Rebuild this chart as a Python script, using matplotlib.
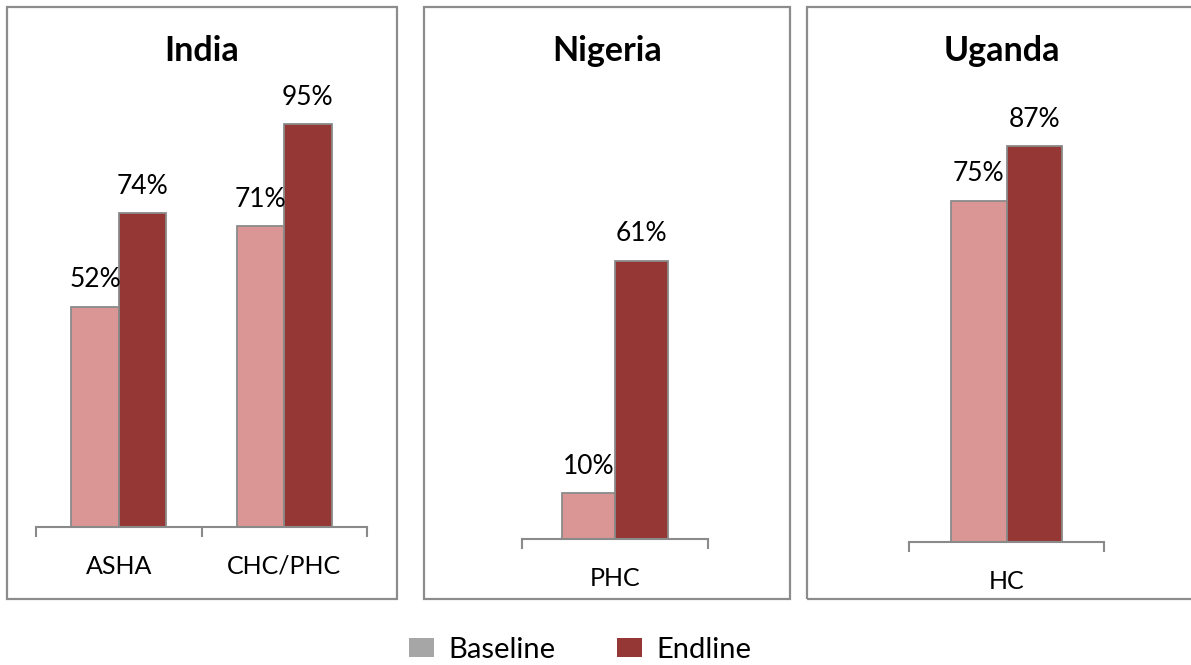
import numpy as np
import matplotlib
matplotlib.use("Agg")
import matplotlib.pyplot as plt
from matplotlib.patches import Rectangle, Patch

plt.rcParams['font.family'] = ['Lato', 'DejaVu Sans']

# Data
countries = ["India", "Nigeria", "Uganda"]
india_sites = ["ASHA", "CHC/PHC"]
india_baseline = [52, 71]
india_endline = [74, 95]
nigeria_sites = ["PHC"]
nigeria_baseline = [10]
nigeria_endline = [61]
uganda_sites = ["HC"]
uganda_baseline = [75]
uganda_endline = [87]
series_names = ["Baseline", "Endline"]

PINK = "#D99694"
DARK = "#953735"
EDGE = "#8A8A8A"
FRAME = "#8C8C8C"
LEGEND_GRAY = "#A6A6A6"

W, H = 1191, 665
fig = plt.figure(figsize=(W / 100, H / 100), dpi=100)


def fx(px):
    return px / W


def fy(py):
    return 1 - py / H


# panel frames (pixel boxes: left, top, right, bottom)
frames = [(7, 7, 397, 599), (424, 7, 790, 599), (807, 7, 1197, 599)]
# plot areas (left, top, right, bottom)
plot_areas = [(36, 103, 367, 527), (522, 83, 708, 539), (909, 87, 1104, 542)]

panels = [
    (india_sites, india_baseline, india_endline),
    (nigeria_sites, nigeria_baseline, nigeria_endline),
    (uganda_sites, uganda_baseline, uganda_endline),
]

for name, (l, t, r, b), area, (sites, base, end) in zip(countries, frames, plot_areas, panels):
    fig.add_artist(Rectangle((fx(l), fy(b)), fx(r) - fx(l), (b - t) / H,
                             transform=fig.transFigure, fill=False,
                             edgecolor=FRAME, lw=1.6))
    fig.text(fx((l + r) / 2), fy(61), name, ha="center", va="baseline",
             fontsize=24.5, fontweight="bold", color="black")

    al, at, ar, ab = area
    ax = fig.add_axes([fx(al), fy(ab), (ar - al) / W, (ab - at) / H])
    n = len(sites)
    x = np.arange(n)
    w = 1 / 3.5
    ax.bar(x - w / 2, base, w, color=PINK, edgecolor=EDGE, linewidth=1.3)
    ax.bar(x + w / 2, end, w, color=DARK, edgecolor=EDGE, linewidth=1.3)
    for xs, vals in ((x - w / 2, base), (x + w / 2, end)):
        for xc, v in zip(xs, vals):
            ax.annotate(f"{v}%", (xc, v), xytext=(0, 14), textcoords="offset points",
                        ha="center", va="baseline", fontsize=19, color="black")

    ax.set_xlim(-0.5, n - 0.5)
    ax.set_ylim(0, 100)
    ax.set_facecolor("none")
    for side in ("top", "left", "right"):
        ax.spines[side].set_visible(False)
    ax.spines["bottom"].set_color(EDGE)
    ax.spines["bottom"].set_linewidth(1.5)
    ax.set_yticks([])
    ax.set_xticks(np.arange(n + 1) - 0.5)
    ax.tick_params(axis="x", which="major", direction="out", length=7,
                   width=1.5, color=EDGE, labelbottom=False)
    ax.set_xticks(x, minor=True)
    ax.set_xticklabels(sites, minor=True)
    ax.tick_params(axis="x", which="minor", length=0, pad=20,
                   labelsize=18, labelcolor="black")

handles = [Patch(facecolor=LEGEND_GRAY, label=series_names[0]),
           Patch(facecolor=DARK, label=series_names[1])]
fig.legend(handles=handles, loc="center left", bbox_to_anchor=(fx(409), fy(650)),
           ncol=2, frameon=False, fontsize=21, handlelength=0.86, handleheight=0.62,
           handletextpad=0.5, columnspacing=2.1, borderpad=0, borderaxespad=0)

fig.savefig("out.png", dpi=100, facecolor="white")
